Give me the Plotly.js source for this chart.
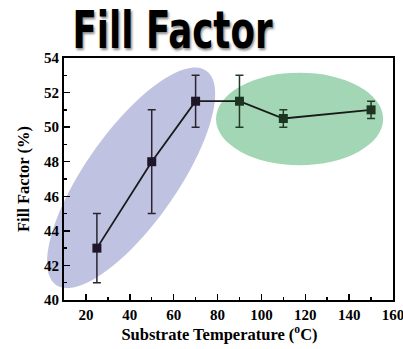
<!DOCTYPE html>
<html><head><meta charset="utf-8">
<script src="https://cdn.plot.ly/plotly-3.0.1.min.js"></script>
<style>html,body{margin:0;padding:0;background:#fff;}#chart{width:403px;height:349px;}</style>
</head><body><div id="chart"></div>
<script>
var temps = [25, 50, 70, 90, 110, 150];
var fillFactor = [43, 48, 51.5, 51.5, 50.5, 51];
var errors = [2, 3, 1.5, 1.5, 0.5, 0.5];
var groupA = [0, 1, 2];
var groupB = [3, 4, 5];
var xTicks = [20, 40, 60, 80, 100, 120, 140, 160];
var yTicks = [40, 42, 44, 46, 48, 50, 52, 54];

var W = 403, H = 349;
var M = {l: 64, r: 10, t: 57.5, b: 49};
var xr = [10, 160], yr = [40, 54];
var plotW = W - M.l - M.r, plotH = H - M.t - M.b;

// ellipse outline in paper coordinates (so it may spill past the axis line like the original)
function ellipsePathPaper(cxData, cyData, aPx, bPx, angDeg) {
  var cx = (cxData - xr[0]) / (xr[1] - xr[0]);
  var cy = (cyData - yr[0]) / (yr[1] - yr[0]);
  var th = angDeg * Math.PI / 180, p = '';
  for (var i = 0; i <= 90; i++) {
    var t = i / 90 * 2 * Math.PI;
    var ex = aPx * Math.cos(t), ey = bPx * Math.sin(t);
    var rx = ex * Math.cos(th) - ey * Math.sin(th);
    var ry = ex * Math.sin(th) + ey * Math.cos(th);
    p += (i === 0 ? 'M' : 'L') + (cx + rx / plotW).toFixed(4) + ',' + (cy + ry / plotH).toFixed(4);
  }
  return p + 'Z';
}

function pick(arr, idx) { return idx.map(function (i) { return arr[i]; }); }

var lineTrace = {x: temps, y: fillFactor, mode: 'lines', line: {color: '#1a1a1a', width: 1.8}, hoverinfo: 'skip', showlegend: false};
var trA = {x: pick(temps, groupA), y: pick(fillFactor, groupA), mode: 'markers',
  marker: {symbol: 'square', size: 9, color: '#1e1628'},
  error_y: {type: 'data', array: pick(errors, groupA), color: '#2a2430', thickness: 1.5, width: 4}, showlegend: false};
var trB = {x: pick(temps, groupB), y: pick(fillFactor, groupB), mode: 'markers',
  marker: {symbol: 'square', size: 9, color: '#1c3520'},
  error_y: {type: 'data', array: pick(errors, groupB), color: '#243a28', thickness: 1.5, width: 4}, showlegend: false};

var serif = '"Liberation Serif", "Times New Roman", serif';
var layout = {
  width: W, height: H, margin: M,
  paper_bgcolor: '#fff', plot_bgcolor: 'rgba(0,0,0,0)', showlegend: false,
  title: {text: 'Fill Factor', x: 0.428, xanchor: 'center', y: 0.97, yanchor: 'top',
    font: {family: '"DejaVu Sans", sans-serif', size: 52, color: '#000', weight: 700, shadow: '2px 2px 3px #888'}},
  xaxis: {range: xr, tickvals: xTicks, ticktext: xTicks.map(String), ticks: 'inside', ticklen: 6, tickwidth: 1.5, tickcolor: '#000',
    ticklabeloverflow: 'allow',
    minor: {dtick: 10, tick0: 0, ticks: 'inside', ticklen: 3, tickwidth: 1.5, tickcolor: '#000'},
    showline: true, linecolor: '#000', linewidth: 2, mirror: true, showgrid: false, zeroline: false,
    tickfont: {family: serif, size: 15, color: '#000', weight: 'bold'},
    title: {text: 'Substrate Temperature (<sup>o</sup>C)', standoff: 6, font: {family: serif, size: 16.5, color: '#000', weight: 'bold'}}},
  yaxis: {range: yr, tickvals: yTicks, ticktext: yTicks.map(String), ticks: 'inside', ticklen: 6, tickwidth: 1.5, tickcolor: '#000',
    ticklabeloverflow: 'allow',
    minor: {dtick: 1, tick0: 0, ticks: 'inside', ticklen: 3, tickwidth: 1.5, tickcolor: '#000'},
    showline: true, linecolor: '#000', linewidth: 2, mirror: true, showgrid: false, zeroline: false,
    tickfont: {family: serif, size: 15, color: '#000', weight: 'bold'},
    title: {text: 'Fill Factor (%)', standoff: 10, font: {family: serif, size: 16.5, color: '#000', weight: 'bold'}}},
  shapes: [
    {type: 'path', xref: 'paper', yref: 'paper', layer: 'below', path: ellipsePathPaper(40.6, 47.07, 131, 46, 55),
      fillcolor: '#bfc2e0', line: {width: 0}},
    {type: 'circle', xref: 'x', yref: 'y', layer: 'below', x0: 79.3, x1: 155.5, y0: 47.8, y1: 53.15,
      fillcolor: '#a3d6b4', line: {width: 0}}
  ]
};
Plotly.newPlot('chart', [lineTrace, trA, trB], layout, {staticPlot: true}).then(function (gd) {
  var t = gd.querySelector('.gtitle');
  if (t) {
    t.setAttribute('textLength', '200');
    t.setAttribute('lengthAdjust', 'spacingAndGlyphs');
    t.setAttribute('dy', '0');
    t.removeAttribute('transform');
    t.setAttribute('y', '48');
  }
  var xt = gd.querySelector('.g-xtitle text');
  if (xt) {
    var x0 = parseFloat(xt.getAttribute('x'));
    if (!isNaN(x0)) xt.setAttribute('x', String(x0 - 9));
  }
});
</script></body></html>
